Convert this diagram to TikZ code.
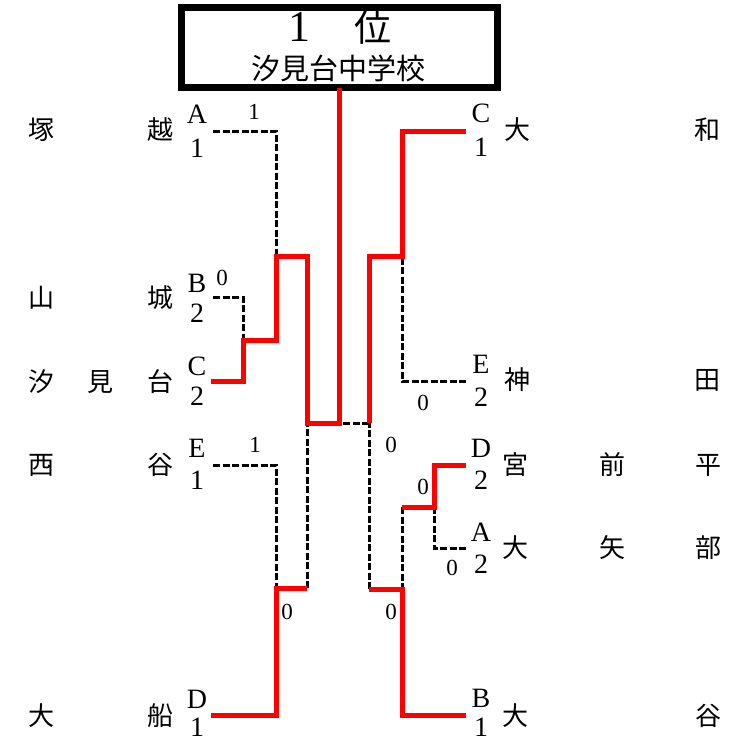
\documentclass[tikz,border=0pt]{standalone}
\usepackage{fontspec}
\setmainfont{Liberation Serif}
\newfontfamily\jp{Noto Sans CJK JP}
\begin{document}
\begin{tikzpicture}[x=1pt,y=-1pt,
  team/.style={font=\jp\fontsize{26}{26}\selectfont, inner sep=0pt},
  letter/.style={font=\fontsize{28}{28}\selectfont, inner sep=0pt},
  score/.style={font=\fontsize{23}{23}\selectfont, inner sep=0pt},
  win/.style={draw=red, line width=5pt},
  lose/.style={draw=black, line width=3pt, dash pattern=on 7pt off 2.5pt},
  titlebox/.style={draw=black, line width=7pt, fill=white, minimum width=316pt, minimum height=80pt, inner sep=0pt}]
\useasboundingbox (0,0) rectangle (744,742);
% title
\node[titlebox] (title) at (339,47) {};
\node[inner sep=0pt, font=\fontsize{44}{44}\selectfont] (rank) at (340,27) {1\hspace{44pt}{\jp\fontsize{37}{37}\selectfont 位}};
\node[inner sep=0pt, font=\jp\fontsize{29}{29}\selectfont] (champ) at (338,68) {汐見台中学校};
% left teams
\node[team] (l1a) at (41,130) {塚}; \node[team] (l1b) at (160,130) {越};
\node[team] (l2a) at (41,298) {山}; \node[team] (l2b) at (160,298) {城};
\node[team] (l3a) at (41,382) {汐}; \node[team] (l3m) at (100,382) {見}; \node[team] (l3b) at (160,382) {台};
\node[team] (l4a) at (41,465) {西}; \node[team] (l4b) at (160,465) {谷};
\node[team] (l5a) at (41,716) {大}; \node[team] (l5b) at (160,716) {船};
% left letters
\node[letter] (lA) at (197,114) {A}; \node[letter] (lA1) at (197,148) {1};
\node[letter] (lB) at (197,283) {B}; \node[letter] (lB2) at (197,313) {2};
\node[letter] (lC) at (197,366) {C}; \node[letter] (lC2) at (197,396) {2};
\node[letter] (lE) at (197,448) {E}; \node[letter] (lE1) at (197,480) {1};
\node[letter] (lD) at (197,699) {D}; \node[letter] (lD1) at (197,727) {1};
% right teams
\node[team] (r1a) at (517,130) {大}; \node[team] (r1b) at (707,130) {和};
\node[team] (r2a) at (517,380) {神}; \node[team] (r2b) at (707,380) {田};
\node[team] (r3a) at (515,465) {宮}; \node[team] (r3m) at (612,465) {前}; \node[team] (r3b) at (708,465) {平};
\node[team] (r4a) at (515,548) {大}; \node[team] (r4m) at (612,548) {矢}; \node[team] (r4b) at (708,548) {部};
\node[team] (r5a) at (515,716) {大}; \node[team] (r5b) at (708,716) {谷};
% right letters
\node[letter] (rC) at (481,113) {C}; \node[letter] (rC1) at (481,147) {1};
\node[letter] (rE) at (481,364) {E}; \node[letter] (rE2) at (481,397) {2};
\node[letter] (rD) at (481,448) {D}; \node[letter] (rD2) at (481,480) {2};
\node[letter] (rA) at (481,532) {A}; \node[letter] (rA2) at (481,564) {2};
\node[letter] (rB) at (481,698) {B}; \node[letter] (rB1) at (481,727) {1};
% scores
\node[score] (s1) at (254,112) {1};
\node[score] (s2) at (222,278) {0};
\node[score] (s3) at (255,445) {1};
\node[score] (s4) at (287,612) {0};
\node[score] (s5) at (423,403) {0};
\node[score] (s6) at (391,445) {0};
\node[score] (s7) at (423,487) {0};
\node[score] (s8) at (452,568) {0};
\node[score] (s9) at (391,612) {0};
% coordinates
\coordinate (pA) at (213,131); \coordinate (pB) at (213,297); \coordinate (pC) at (211,381);
\coordinate (pE) at (213,465); \coordinate (pD) at (211,715);
\coordinate (qC) at (466,131); \coordinate (qE) at (466,381); \coordinate (qD) at (466,465);
\coordinate (qA) at (466,548); \coordinate (qB) at (466,715);
\coordinate (lm1) at (243,340); \coordinate (lm2) at (276,256); \coordinate (lm3) at (307,423);
\coordinate (lm4) at (276,588); \coordinate (lm5) at (307,588);
\coordinate (fin) at (339,423); \coordinate (top) at (339,88);
\coordinate (rm1) at (402,256); \coordinate (rm2) at (369,423);
\coordinate (rm3) at (434,507); \coordinate (rm4) at (402,507); \coordinate (rm5) at (402,589);
\coordinate (rm6) at (369,589);
% losing paths
\draw[lose] (pA) -| (lm2);
\draw[lose] (pB) -| (lm1);
\draw[lose] (pE) -| (lm4);
\draw[lose] (lm5) -- (lm3);
\draw[lose] (qE) -| (rm1);
\draw[lose] (rm2) -- (fin);
\draw[lose] (qA) -| (rm3);
\draw[lose] (rm4) -- (rm5);
\draw[lose] (rm6) -- (rm2);
% winning paths
\draw[win] (pC) -| (lm1) -| (lm2) -| (lm3) -| (top);
\draw[win] (pD) -| (lm4) -- (lm5);
\draw[win] (qC) -| (rm1) -| (rm2);
\draw[win] (qD) -| (rm3) -- (rm4);
\draw[win] (qB) -| (rm5) -- (rm6);
\end{tikzpicture}
\end{document}
